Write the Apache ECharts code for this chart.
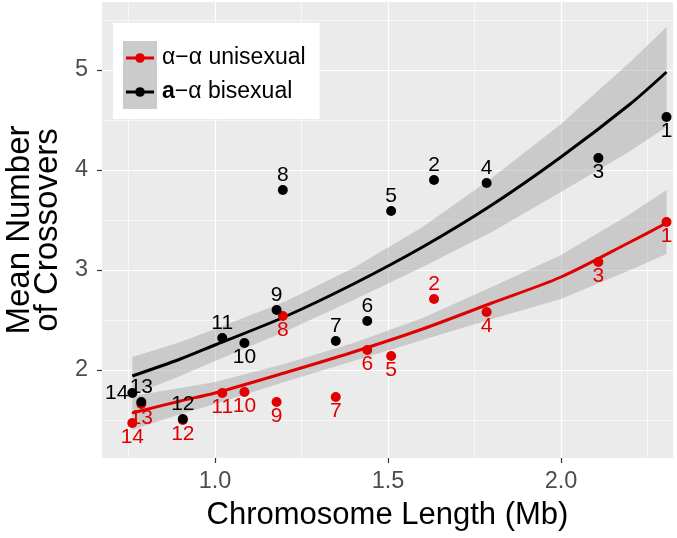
<!DOCTYPE html>
<html><head><meta charset="utf-8">
<script src="https://cdn.jsdelivr.net/npm/echarts@6/dist/echarts.min.js"></script>
<style>html,body{margin:0;padding:0;background:#fff}#c{width:677px;height:538px}</style>
</head><body><div id="c"></div>
<script>
// ---- data ----
const chromosomes = ['1','2','3','4','5','6','7','8','9','10','11','12','13','14'];
const lengthMb   = [2.305, 1.633, 2.108, 1.785, 1.509, 1.440, 1.349, 1.196, 1.178, 1.085, 1.021, 0.907, 0.787, 0.761];
const bisexual   = [4.53, 3.90, 4.12, 3.87, 3.59, 2.49, 2.29, 3.80, 2.60, 2.27, 2.32, 1.51, 1.68, 1.77];
const unisexual  = [3.48, 2.71, 3.08, 2.58, 2.14, 2.20, 1.73, 2.54, 1.68, 1.78, 1.77, 1.50, 1.66, 1.47];

const fitX   = [0.761, 0.9, 1.0, 1.2, 1.4, 1.6, 1.8, 2.0, 2.2, 2.305];
const biFit  = [1.94, 2.11, 2.25, 2.53, 2.86, 3.23, 3.65, 4.13, 4.66, 4.98];
const biLo   = [1.75, 1.94, 2.09, 2.38, 2.70, 3.03, 3.38, 3.78, 4.19, 4.43];
const biHi   = [2.13, 2.28, 2.41, 2.68, 3.02, 3.43, 3.92, 4.46, 5.08, 5.43];
const uniFit = [1.57, 1.69, 1.77, 1.97, 2.18, 2.41, 2.67, 2.93, 3.28, 3.47];
const uniLo  = [1.40, 1.56, 1.66, 1.88, 2.09, 2.30, 2.51, 2.71, 3.00, 3.16];
const uniHi  = [1.74, 1.82, 1.88, 2.06, 2.27, 2.52, 2.83, 3.15, 3.56, 3.80];

const xTicks = [1.0, 1.5, 2.0];
const xMinor = [0.75, 1.25, 1.75, 2.25];
const yTicks = [2, 3, 4, 5];
const yMinor = [1.5, 2.5, 3.5, 4.5, 5.5];

const uniName = 'α−α unisexual';
const biName  = 'a−α bisexual';

// ---- style config (label placement per chromosome) ----
const biLabelPos  = ['bottom','top','bottom','top','top','top','top','top','top','bottom','top','top','top','left'];
const uniLabelPos = ['bottom','top','bottom','bottom','bottom','bottom','bottom','bottom','bottom','bottom','bottom','bottom','bottom','bottom'];

const RED = '#e00000', BLACK = '#000000';
const FONT = "'Liberation Sans', Arial, sans-serif";

function keyIcon(color) {
  const svg = "<svg xmlns='http://www.w3.org/2000/svg' width='34' height='34'>" +
    "<rect x='0' y='0' width='34' height='34' fill='#cbcbcb'/>" +
    "<line x1='3' y1='17' x2='31' y2='17' stroke='" + color + "' stroke-width='3'/>" +
    "<circle cx='17' cy='17' r='4.8' fill='" + color + "'/></svg>";
  return 'image://data:image/svg+xml;charset=utf-8,' + encodeURIComponent(svg);
}

function ribbon(lo, hi, name) {
  return {
    type: 'custom', name: name, z: 1, silent: true, clip: true,
    data: [[fitX[0], lo[0]]],
    renderItem: function (params, api) {
      if (params.dataIndex !== 0) return;
      const pts = [];
      for (let i = 0; i < fitX.length; i++) pts.push(api.coord([fitX[i], hi[i]]));
      for (let i = fitX.length - 1; i >= 0; i--) pts.push(api.coord([fitX[i], lo[i]]));
      return { type: 'polygon', shape: { points: pts }, style: { fill: 'rgba(153,153,153,0.4)' } };
    }
  };
}

function fitLine(vals, color, name) {
  return {
    type: 'line', name: name, z: 2, silent: true, symbol: 'none', smooth: 0.3,
    lineStyle: { color: color, width: 3 },
    data: fitX.map((x, i) => [x, vals[i]])
  };
}

function pointSeries(vals, color, name, pos, z) {
  return {
    type: 'scatter', name: name, z: z, symbolSize: 10,
    itemStyle: { color: color, opacity: 1 },
    label: {
      show: true, color: color, fontSize: 21, fontFamily: FONT, distance: -1,
      formatter: p => chromosomes[p.dataIndex]
    },
    data: lengthMb.map((x, i) => ({ value: [x, vals[i]], label: { position: pos[i] } }))
  };
}

const chart = echarts.init(document.getElementById('c'), null, { renderer: 'canvas' });
chart.setOption({
  animation: false,
  backgroundColor: '#ffffff',
  textStyle: { fontFamily: FONT },
  grid: { left: 102, right: 4, top: 2, bottom: 80, show: true, backgroundColor: '#ebebeb', borderWidth: 0, containLabel: false, outerBoundsMode: 'none' },
  xAxis: [{
    type: 'value', min: 0.6734, max: 2.3237,
    name: 'Chromosome Length (Mb)', nameLocation: 'middle', nameGap: 42,
    nameTextStyle: { fontSize: 31, color: '#000', fontFamily: FONT },
    axisLine: { show: false },
    axisTick: { show: true, customValues: xTicks, length: 5, lineStyle: { color: '#333', width: 1.2 } },
    axisLabel: { customValues: xTicks, fontSize: 23.5, color: '#4d4d4d', margin: 12, fontFamily: FONT, formatter: v => v.toFixed(1) },
    splitLine: { show: true, lineStyle: { color: '#ffffff', width: 1.2 } }
  }, {
    type: 'value', min: 0.6734, max: 2.3237, position: 'bottom',
    axisLine: { show: false },
    axisTick: { show: false, customValues: xMinor },
    axisLabel: { show: false, customValues: xMinor },
    splitLine: { show: true, lineStyle: { color: '#ffffff', width: 0.6 } }
  }],
  yAxis: [{
    type: 'value', min: 1.12, max: 5.68,
    name: 'Mean Number\nof Crossovers', nameLocation: 'middle', nameGap: 40, nameRotate: 90,
    nameTextStyle: { fontSize: 33, color: '#000', lineHeight: 28, fontFamily: FONT },
    axisLine: { show: false },
    axisTick: { show: true, customValues: yTicks, length: 5, lineStyle: { color: '#333', width: 1.2 } },
    axisLabel: { customValues: yTicks, fontSize: 23.5, color: '#4d4d4d', margin: 14, fontFamily: FONT },
    splitLine: { show: true, lineStyle: { color: '#ffffff', width: 1.2 } }
  }, {
    type: 'value', min: 1.12, max: 5.68, position: 'left',
    axisLine: { show: false },
    axisTick: { show: false, customValues: yMinor },
    axisLabel: { show: false, customValues: yMinor },
    splitLine: { show: true, lineStyle: { color: '#ffffff', width: 0.6 } }
  }],
  legend: {
    orient: 'vertical', left: 113, top: 23, padding: [18, 14, 10, 10], itemGap: 0,
    itemWidth: 34, itemHeight: 34, backgroundColor: '#ffffff', selectedMode: false,
    data: [{ name: uniName, icon: keyIcon(RED) }, { name: biName, icon: keyIcon(BLACK) }],
    formatter: n => n === biName ? '{b|a}{n|−α bisexual}' : '{n|α−α unisexual}',
    textStyle: {
      fontSize: 23, color: '#000', fontFamily: FONT,
      rich: { n: { fontSize: 23, color: '#000', fontFamily: FONT }, b: { fontSize: 23, fontWeight: 'bold', color: '#000', fontFamily: FONT } }
    }
  },
  series: [
    ribbon(uniLo, uniHi, 'uniBand'),
    ribbon(biLo, biHi, 'biBand'),
    fitLine(uniFit, RED, 'uniFit'),
    fitLine(biFit, BLACK, 'biFit'),
    pointSeries(unisexual, RED, uniName, uniLabelPos, 3),
    pointSeries(bisexual, BLACK, biName, biLabelPos, 4)
  ]
});
</script></body></html>
